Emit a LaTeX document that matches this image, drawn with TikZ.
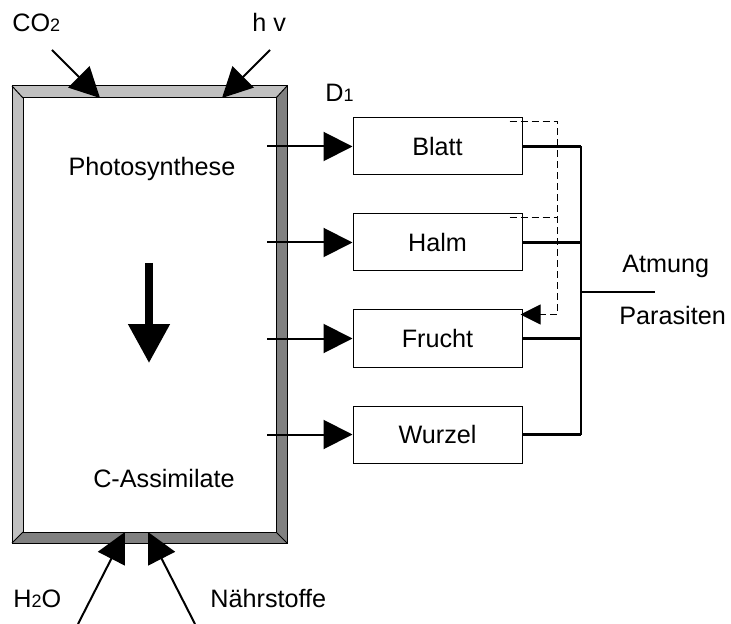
\documentclass[tikz,border=0pt]{standalone}
\usepackage{fontspec}
\setmainfont{Liberation Sans}
\usetikzlibrary{arrows.meta,calc,positioning}
\definecolor{LightGrey}{HTML}{C0C0C0}
\definecolor{DarkGrey}{HTML}{808080}
\newcommand{\idx}[1]{{\fontsize{9}{9}\selectfont #1}}

\begin{document}
\begin{tikzpicture}[x=0.5pt,y=-0.5pt,font=\fontsize{12.6}{15}\selectfont,
    organ/.style={draw,line width=0.5pt,minimum width=84.5pt,minimum height=28.5pt,inner sep=0pt},
    tag/.style={inner sep=0pt,anchor=base west},
    flow/.style={line width=1pt,-{Triangle[length=14.5pt,width=14.5pt]}},
    feed/.style={line width=1pt,-{Triangle[length=15pt,width=15pt]}},
    loss/.style={line width=1.3pt},
    transfer/.style={line width=0.5pt,dash pattern=on 3.5pt off 2pt,-{Triangle[length=10pt,width=10pt]}}]
        \useasboundingbox (0,0) rectangle (731,624);
        % frame of the plant
        \fill[LightGrey] (12,86) -- (287,86) -- (276,98) -- (23,98) -- cycle;
        \fill[LightGrey] (12,86) -- (23,98) -- (23,532) -- (12,543) -- cycle;
        \fill[DarkGrey] (287,86) -- (287,543) -- (276,532) -- (276,98) -- cycle;
        \fill[DarkGrey] (12,543) -- (287,543) -- (276,532) -- (23,532) -- cycle;
        \draw[line width=0.5pt] (12,86) rectangle (287,543) (23,98) rectangle (276,532);
        \draw[line width=0.5pt] (12,86) -- (23,98) (287,86) -- (276,98) (12,543) -- (23,532) (287,543) -- (276,532);
        \node[anchor=base] (photo) at (152,176) {Photosynthese};
        \node[anchor=base] (cass) at (164,487) {C-Assimilate};
        \coordinate (flowtop) at (149,263);
        \coordinate (flowend) at (149,363);
        \draw[line width=4pt,-{Triangle[length=19.5pt,width=20pt]}] (flowtop) -- (flowend);
        % inputs
        \node[tag] (co2) at (12,32) {CO\idx{2}};
        \node[tag] (light) at (252,32) {h v};
        \node[tag] (water) at (13,607) {H\idx{2}O};
        \node[tag] (salts) at (210,607) {Nährstoffe};
        \coordinate (co2src) at (52,50);   \coordinate (co2in) at (100,98);
        \coordinate (lightsrc) at (270,50); \coordinate (lightin) at (222,98);
        \coordinate (watersrc) at (78,624); \coordinate (waterin) at (125,532);
        \coordinate (saltsrc) at (195,624); \coordinate (saltin) at (148,532);
        \draw[feed] (co2src) -- (co2in);
        \draw[feed] (lightsrc) -- (lightin);
        \draw[feed] (watersrc) -- (waterin);
        \draw[feed] (saltsrc) -- (saltin);
        % organs
        \node[tag] (dist) at (325,102) {D\idx{1}};
        \coordinate (bus) at (581,292);
        \coordinate (lossend) at (655,292);
        \foreach \n/\t/\y in {blatt/Blatt/146.5,halm/Halm/242.5,frucht/Frucht/338.5,wurzel/Wurzel/434.5}{
          \node[organ] (\n) at (437.5,\y) {\t};
          \coordinate (\n src) at (267,\y);
          \draw[flow] (\n src) -- (\n);
          \draw[loss] (\n.east) -- (\n.east -| bus);
        }
        \draw[loss] (blatt.east -| bus) -- (wurzel.east -| bus);
        \draw[loss] (bus) -- (lossend);
        \node[tag] (atm) at (622,273) {Atmung};
        \node[tag] (para) at (619,324) {Parasiten};
        % relocation
        \draw[transfer] ([shift={(-13,4)}]blatt.north east) -| ($(frucht.north east)+(35,5)$) -- ([shift={(-2,5)}]frucht.north east);
        \draw[line width=0.5pt,dash pattern=on 3.5pt off 2pt] ([shift={(-13,4)}]halm.north east) -- ++(48,0);
\end{tikzpicture}
\end{document}
